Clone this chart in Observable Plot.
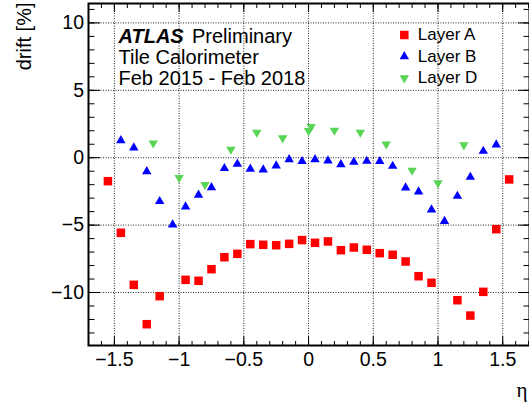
<!DOCTYPE html>
<html>
<head>
<meta charset="utf-8">
<script src="https://cdn.jsdelivr.net/npm/d3@7"></script>
<script src="https://cdn.jsdelivr.net/npm/@observablehq/plot@0.6"></script>
<style>
  html, body { margin: 0; padding: 0; background: #fff; }
  #chart { width: 529px; height: 408px; }
</style>
</head>
<body>
<div id="chart"></div>
<script>
// ---- data ----
const etaA = [-1.55,-1.45,-1.35,-1.25,-1.15,-0.95,-0.85,-0.75,-0.65,-0.55,-0.45,-0.35,-0.25,-0.15,-0.05,
              0.05,0.15,0.25,0.35,0.45,0.55,0.65,0.75,0.85,0.95,1.15,1.25,1.35,1.45,1.55];
const driftA = [-1.74,-5.57,-9.43,-12.35,-10.27,-9.06,-9.13,-8.27,-7.38,-7.13,-6.41,-6.46,-6.49,-6.39,-6.11,
                -6.31,-6.21,-6.86,-6.66,-6.83,-7.08,-7.20,-7.70,-8.79,-9.28,-10.57,-11.71,-9.95,-5.30,-1.61];

const etaB = [-1.45,-1.35,-1.25,-1.15,-1.05,-0.95,-0.85,-0.75,-0.65,-0.55,-0.45,-0.35,-0.25,-0.15,-0.05,
              0.05,0.15,0.25,0.35,0.45,0.55,0.65,0.75,0.85,0.95,1.05,1.15,1.25,1.35,1.45];
const driftB = [1.28,0.74,-1.02,-3.24,-4.97,-3.64,-2.77,-2.21,-0.79,-0.47,-0.84,-0.89,-0.60,-0.13,-0.27,
                -0.13,-0.23,-0.50,-0.32,-0.25,-0.27,-0.62,-2.23,-2.52,-3.86,-4.71,-2.85,-1.44,0.49,0.96];

const etaD = [-1.2,-1.0,-0.8,-0.6,-0.4,-0.2,0.0,0.02,0.2,0.4,0.6,0.8,1.0,1.2];
const driftD = [1.08,-1.49,-2.0,0.62,1.88,1.46,2.0,2.3,2.03,1.88,1.01,-0.94,-1.88,0.94];

const legendLabels = ["Layer A", "Layer B", "Layer D"];
const seriesColors = ["#ff0000", "#0000ff", "#59d454"];

const xMajorTicks = [-1.5, -1, -0.5, 0, 0.5, 1, 1.5];
const xMajorLabels = ["\u22121.5", "\u22121", "\u22120.5", "0", "0.5", "1", "1.5"];
const xMinorTicks = d3.range(-17, 18).map(i => i / 10);
const yMajorTicks = [-10, -5, 0, 5, 10];
const yMajorLabels = ["\u221210", "\u22125", "0", "5", "10"];
const yMinorTicks = d3.range(-13, 12);

const xTitle = "\u03b7";
const yTitle = "drift [%]";
const annotation = ["Tile Calorimeter", "Feb 2015 - Feb 2018"];

// ---- tables ----
const tableA = etaA.map((e, i) => ({eta: e, drift: driftA[i]}));
const tableB = etaB.map((e, i) => ({eta: e, drift: driftB[i]}));
const tableD = etaD.map((e, i) => ({eta: e, drift: driftD[i]}));

const triangleDown = {
  draw(context, size) {
    const y = Math.sqrt(size / (Math.sqrt(3) * 3));
    context.moveTo(0, 2 * y);
    context.lineTo(-Math.sqrt(3) * y, -y);
    context.lineTo(Math.sqrt(3) * y, -y);
    context.closePath();
  }
};
const symbols = ["square", "triangle", triangleDown];
const radii = [4.8, 3.5, 3.5];

const fmtX = d => xMajorLabels[xMajorTicks.indexOf(d)];
const fmtY = d => yMajorLabels[yMajorTicks.indexOf(d)];
const grid = {stroke: "#000", strokeOpacity: 0.85, strokeDasharray: "1,1.5", strokeWidth: 1};

const legendRows = [31.5, 53, 74.5];

const marks = [
  Plot.gridX(xMajorTicks, grid),
  Plot.gridY(yMajorTicks, grid),
  // inward ticks on all four sides
  Plot.axisX(xMinorTicks, {anchor: "bottom", tickSize: -4, fill: "none", label: null}),
  Plot.axisX(xMajorTicks, {anchor: "bottom", tickSize: -9, fill: "none", label: null}),
  Plot.axisX(xMinorTicks, {anchor: "top", tickSize: -4, fill: "none", label: null}),
  Plot.axisX(xMajorTicks, {anchor: "top", tickSize: -8, fill: "none", label: null}),
  Plot.axisY(yMinorTicks, {anchor: "left", tickSize: -6.5, fill: "none", label: null}),
  Plot.axisY(yMajorTicks, {anchor: "left", tickSize: -12, fill: "none", label: null}),
  Plot.axisY(yMinorTicks, {anchor: "right", tickSize: -6.5, fill: "none", label: null}),
  Plot.axisY(yMajorTicks, {anchor: "right", tickSize: -12, fill: "none", label: null}),
  // tick labels
  Plot.axisX(xMajorTicks, {anchor: "bottom", tickSize: 0, tickPadding: 6.5, tickFormat: fmtX, fontSize: 19.5, label: null}),
  Plot.axisY(yMajorTicks, {anchor: "left", tickSize: 0, tickPadding: 4.5, tickFormat: fmtY, fontSize: 19.5, label: null}),
  Plot.frame({stroke: "#000", strokeWidth: 2}),
  // axis titles
  Plot.text([yTitle], {frameAnchor: "top-left", text: d => d, rotate: -90, textAnchor: "end", lineAnchor: "middle", dx: -64, dy: -1, fontSize: 20}),
  Plot.text([xTitle], {frameAnchor: "bottom-right", text: d => d, textAnchor: "end", lineAnchor: "bottom", dx: -2, dy: 51, fontSize: 21, fontFamily: "Liberation Serif"}),
  // annotation
  Plot.text(["ATLAS"], {frameAnchor: "top-left", text: d => d, textAnchor: "start", lineAnchor: "middle", dx: 30, dy: 33, fontSize: 20, fontWeight: "bold", fontStyle: "italic"}),
  Plot.text(["Preliminary"], {frameAnchor: "top-left", text: d => d, textAnchor: "start", lineAnchor: "middle", dx: 103.5, dy: 33, fontSize: 20}),
  Plot.text([annotation[0]], {frameAnchor: "top-left", text: d => d, textAnchor: "start", lineAnchor: "middle", dx: 30, dy: 54, fontSize: 20}),
  Plot.text([annotation[1]], {frameAnchor: "top-left", text: d => d, textAnchor: "start", lineAnchor: "middle", dx: 30, dy: 75, fontSize: 20}),
  // data
  Plot.dot(tableA, {x: "eta", y: "drift", symbol: symbols[0], r: radii[0], fill: seriesColors[0], stroke: "none"}),
  Plot.dot(tableB, {x: "eta", y: "drift", symbol: symbols[1], r: radii[1], fill: seriesColors[1], stroke: "none"}),
  Plot.dot(tableD, {x: "eta", y: "drift", symbol: symbols[2], r: radii[2], fill: seriesColors[2], stroke: "none"})
];

// legend inside the frame
legendLabels.forEach((lab, i) => {
  marks.push(Plot.dot([lab], {frameAnchor: "top-left", symbol: symbols[i], r: radii[i], fill: seriesColors[i], stroke: "none", dx: 315.8, dy: legendRows[i]}));
  marks.push(Plot.text([lab], {frameAnchor: "top-left", text: d => d, textAnchor: "start", lineAnchor: "middle", dx: 329.3, dy: legendRows[i], fontSize: 17}));
});

const chart = Plot.plot({
  width: 529,
  height: 408,
  marginLeft: 88,
  marginRight: 0,
  marginTop: 3,
  marginBottom: 63,
  style: {fontFamily: "'Liberation Sans', Arial, Helvetica, sans-serif", fontSize: "20px", background: "#fff", color: "#000"},
  x: {domain: [-1.7, 1.707], axis: null},
  y: {domain: [-13.93, 11.44], axis: null},
  marks
});
document.getElementById("chart").appendChild(chart);
</script>
</body>
</html>
